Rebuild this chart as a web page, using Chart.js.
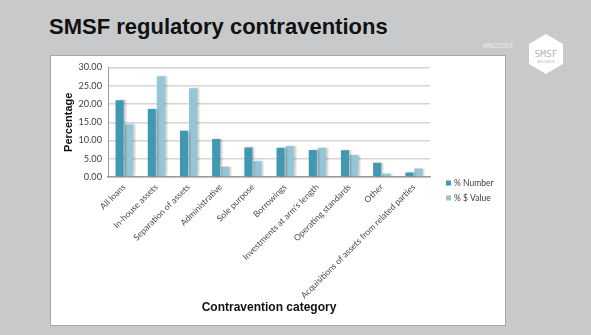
<!DOCTYPE html>
<html>
<head>
<meta charset="utf-8">
<script src="https://cdn.jsdelivr.net/npm/chart.js@4"></script>
<style>
  html, body { margin: 0; padding: 0; }
  body { width: 591px; height: 335px; background: #c8c9cb; position: relative; overflow: hidden; }
  #title { position: absolute; left: 49px; top: 14px; font: bold 22px "Liberation Sans", Arial, sans-serif; color: #111; }
  #tag { position: absolute; left: 483px; top: 42px; font: 7px "Liberation Sans", Arial, sans-serif; color: #ececec; }
  #logo { position: absolute; left: 527px; top: 33px; }
  #panel { position: absolute; left: 50px; top: 55px; width: 454px; height: 269px; background: #fff; border: 1px solid #a9a9a9; }
  #chart { position: absolute; left: 0; top: 0; }
</style>
</head>
<body>
<div id="title">SMSF regulatory contraventions</div>
<div id="tag">#NC2019</div>
<svg id="logo" width="38" height="42" viewBox="0 0 38 42">
  <polygon points="19,1 36,11 36,31 19,41 2,31 2,11" fill="#fff"/>
  <text x="19" y="24" text-anchor="middle" font-family="DejaVu Sans Mono, monospace" font-size="9.5" fill="#b4b5b8">SMSF</text>
  <text x="19" y="30" text-anchor="middle" font-family="Liberation Sans, sans-serif" font-size="2.6" fill="#b4b5b8">ASSOCIATION</text>
</svg>
<div id="panel"><canvas id="chart" width="454" height="269"></canvas></div>
<script>
  // ────────── Data ──────────
  const categories = ['All loans', 'In-house assets', 'Separation of assets', 'Administrative', 'Sole purpose',
    'Borrowings', "Investments at arm's length", 'Operating standards', 'Other',
    'Acquisitions of assets from related parties'];
  const pctNumber = [21.0, 18.6, 12.7, 10.4, 8.1, 8.0, 7.4, 7.3, 3.9, 1.2];
  const pctValue = [14.4, 27.6, 24.3, 2.8, 4.3, 8.5, 8.0, 6.0, 0.9, 2.3];
  const seriesNames = ['% Number', '% $ Value'];
  const yTicks = [0, 5, 10, 15, 20, 25, 30];

  const darkTeal = '#4198b0';
  const lightTeal = '#95c6d8';

  // soft shadow behind the bars
  const barShadow = {
    id: 'bar-shadow',
    beforeDatasetsDraw(chart) {
      const ctx = chart.ctx;
      ctx.save();
      ctx.shadowColor = 'rgba(0,0,0,0.22)';
      ctx.shadowOffsetX = 2;
      ctx.shadowOffsetY = 0;
      ctx.shadowBlur = 2;
    },
    afterDatasetsDraw(chart) {
      chart.ctx.restore();
    }
  };

  // legend drawn to the right of the plot
  const sideLegend = {
    id: 'side-legend',
    afterDraw(chart) {
      const ctx = chart.ctx;
      const x = chart.chartArea.right + 16;
      let y = 127;
      ctx.save();
      ctx.font = '8.5px Lato, sans-serif';
      ctx.textBaseline = 'middle';
      chart.data.datasets.forEach(ds => {
        ctx.fillStyle = ds.backgroundColor;
        ctx.fillRect(x, y - 2.5, 5, 5);
        ctx.fillStyle = '#404040';
        ctx.fillText(ds.label, x + 8, y);
        y += 15;
      });
      ctx.restore();
    }
  };

  const ctx = document.getElementById('chart').getContext('2d');
  const chart = new Chart(ctx, {
    type: 'bar',
    data: {
      labels: categories,
      datasets: [
        { label: seriesNames[0], data: pctNumber, backgroundColor: darkTeal },
        { label: seriesNames[1], data: pctValue, backgroundColor: lightTeal }
      ]
    },
    options: {
      responsive: false,
      animation: false,
      devicePixelRatio: 1,
      layout: { padding: { top: 9, right: 75, bottom: 0, left: 0 } },
      datasets: { bar: { categoryPercentage: 0.56, barPercentage: 0.9 } },
      plugins: { legend: { display: false }, tooltip: { enabled: false } },
      scales: {
        x: {
          grid: { display: false, drawTicks: false },
          border: { color: '#9a9a9a', width: 1.5 },
          ticks: {
            maxRotation: 45, minRotation: 45, autoSkip: false, padding: 5,
            color: '#4a4a4a', font: { family: 'Lato', size: 8.6 }
          },
          title: {
            display: true, text: 'Contravention category', color: '#111',
            font: { family: 'Liberation Sans', size: 12, weight: 'bold' },
            padding: { top: 0, bottom: 10 }
          },
          afterFit(scale) { scale.height = 148; }
        },
        y: {
          min: 0, max: 30,
          afterBuildTicks(scale) { scale.ticks = yTicks.map(v => ({ value: v })); },
          grid: { color: '#d6d6d6', lineWidth: 1.5, drawTicks: false },
          border: { color: '#9a9a9a', width: 1 },
          ticks: {
            padding: 6, color: '#404040', font: { family: 'Lato', size: 9.2 },
            callback: v => v.toFixed(2)
          },
          title: {
            display: true, text: 'Percentage', color: '#111',
            font: { family: 'Liberation Sans', size: 11, weight: 'bold' },
            padding: { top: 11, bottom: 0 }
          },
          afterFit(scale) { scale.width = 57; }
        }
      }
    },
    plugins: [barShadow, sideLegend]
  });
</script>
</body>
</html>
